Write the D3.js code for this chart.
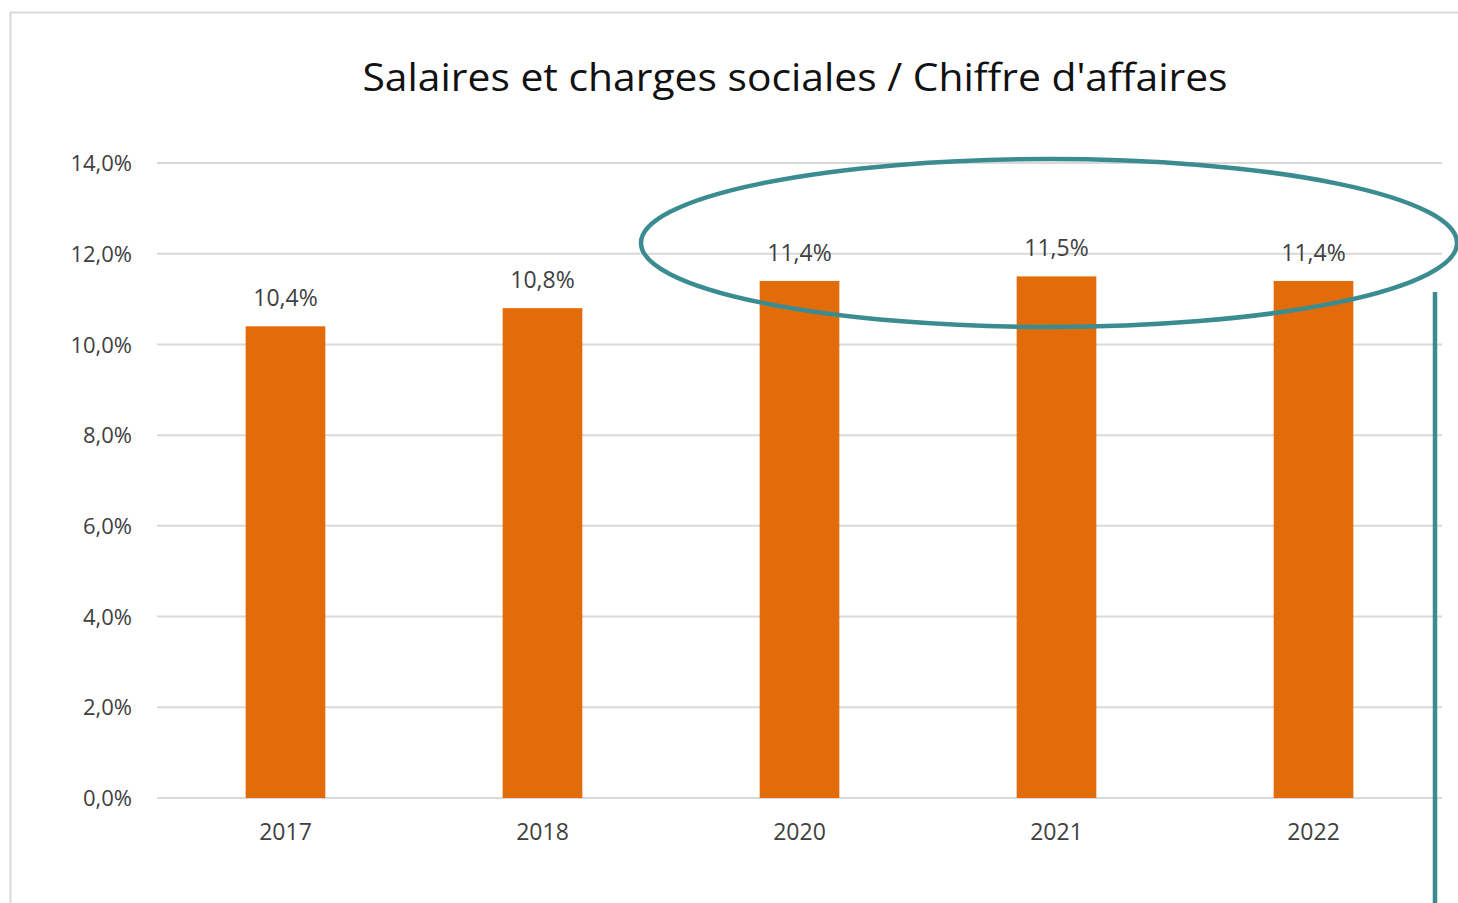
<!DOCTYPE html>
<html><head><meta charset="utf-8">
<script src="https://cdn.jsdelivr.net/npm/d3@7"></script>
<style>body{margin:0;background:#fff;}svg{display:block;}</style>
</head><body>
<script>
const categories = ["2017","2018","2020","2021","2022"];
const values = [10.4, 10.8, 11.4, 11.5, 11.4];
const yTicks = [0,2,4,6,8,10,12,14];
const title = "Salaires et charges sociales / Chiffre d'affaires";

const W = 1458, H = 903;
const svg = d3.select("body").append("svg").attr("width", W).attr("height", H);
const font = "'Open Sans', 'Noto Sans', sans-serif";
const fmt = v => d3.format(".1f")(v).replace(".", ",") + "%";

// chart border
svg.append("path").attr("d", `M10.5,${H} V12.5 H${W}`).attr("fill","none").attr("stroke","#d9d9d9").attr("stroke-width",2);

const x = d3.scaleBand().domain(categories).range([157, 1442]).paddingInner(0.69).paddingOuter(0.345);
const y = d3.scaleLinear().domain([0, 14]).range([798, 163]);

// gridlines
svg.append("g").selectAll("line").data(yTicks).join("line")
  .attr("x1", 157).attr("x2", 1442).attr("y1", d => y(d)).attr("y2", d => y(d))
  .attr("stroke", "#d9d9d9").attr("stroke-width", 2);

// y axis labels
const yAxis = d3.axisLeft(y).tickValues(yTicks).tickFormat(fmt).tickSize(0).tickPadding(0);
const gy = svg.append("g").attr("transform", "translate(132,0)").call(yAxis);
gy.select(".domain").remove();
gy.selectAll("text").attr("font-family", font).attr("font-size", 22).attr("fill", "#404040").attr("dy","0.35em");

// x axis labels
const xAxis = d3.axisBottom(x).tickSize(0).tickPadding(0);
const gx = svg.append("g").attr("transform", "translate(0,832)").call(xAxis);
gx.select(".domain").remove();
gx.selectAll("text").attr("font-family", font).attr("font-size", 23).attr("fill", "#404040").attr("dy","0.35em");

// bars
svg.append("g").selectAll("rect").data(values).join("rect")
  .attr("x", (d,i) => x(categories[i])).attr("width", x.bandwidth())
  .attr("y", d => y(d)).attr("height", d => y(0) - y(d))
  .attr("fill", "#e36c0a");

// data labels
svg.append("g").selectAll("text").data(values).join("text")
  .attr("x", (d,i) => x(categories[i]) + x.bandwidth()/2)
  .attr("y", d => y(d) - 20)
  .attr("text-anchor", "middle").attr("font-family", font).attr("font-size", 23).attr("fill", "#404040")
  .text(fmt);

// title
svg.append("text").attr("x", 795).attr("y", 91).attr("text-anchor","middle")
  .attr("font-family", font).attr("font-size", 38).attr("fill", "#111")
  .attr("textLength", 865).attr("lengthAdjust","spacingAndGlyphs")
  .text(title);

// annotations
svg.append("ellipse").attr("cx", 1049).attr("cy", 243).attr("rx", 408).attr("ry", 84)
  .attr("fill","none").attr("stroke","#3b8c91").attr("stroke-width",4.5);
svg.append("line").attr("x1", 1435).attr("x2", 1435).attr("y1", 292).attr("y2", H)
  .attr("stroke","#3b8c91").attr("stroke-width",4.5);
</script>
</body></html>
